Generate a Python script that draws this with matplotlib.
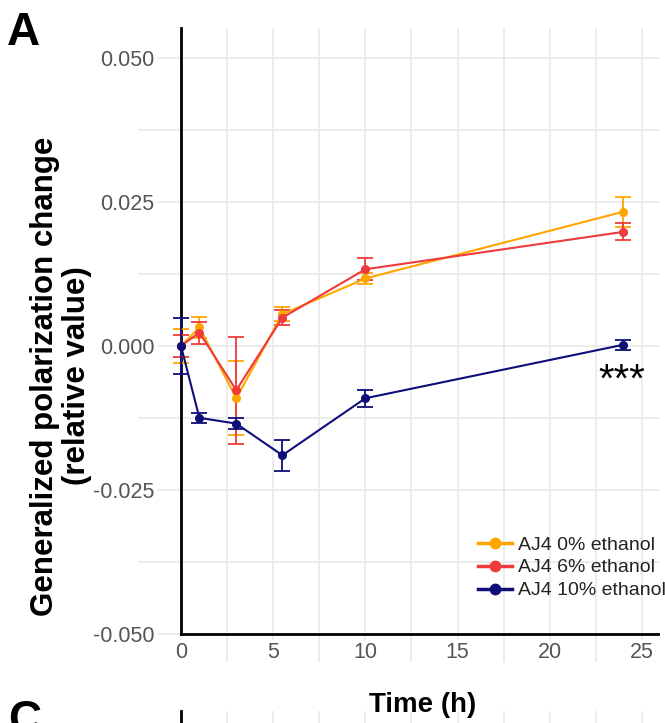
import matplotlib
matplotlib.use("Agg")
import matplotlib.pyplot as plt
from matplotlib.lines import Line2D
from matplotlib.ticker import MultipleLocator

plt.rcParams['font.family'] = ['Liberation Sans', 'DejaVu Sans']

# Sampling times (h)
time_h = [0, 1, 3, 5.5, 10, 24]

# Generalized polarization change, mean and error per condition
gp_0 = [0.0, 0.0032, -0.0091, 0.0055, 0.0117, 0.0233]
err_0 = [0.0029, 0.0018, 0.0064, 0.0012, 0.0010, 0.0026]

gp_6 = [0.0, 0.0023, -0.0077, 0.0049, 0.0133, 0.0198]
err_6 = [0.0019, 0.0019, 0.0093, 0.0013, 0.0019, 0.0015]

gp_10 = [0.0, -0.0125, -0.0135, -0.0190, -0.0091, 0.0002]
err_10 = [0.0048, 0.0009, 0.0010, 0.0027, 0.0015, 0.0009]

series_labels = ["AJ4 0% ethanol", "AJ4 6% ethanol", "AJ4 10% ethanol"]
series_colors = ["#FFA500", "#EE3B3B", "#0E0E78"]

y_ticks = [-0.05, -0.025, 0.0, 0.025, 0.05]
y_ticklabels = ["-0.050", "-0.025", "0.000", "0.025", "0.050"]
x_ticks = [0, 5, 10, 15, 20, 25]

W, H = 665, 723
fig = plt.figure(figsize=(W / 100, H / 100), dpi=100)


def px_rect(left, top, right, bottom):
    return [left / W, 1 - bottom / H, (right - left) / W, (bottom - top) / H]


grid_color = "#EBEBEB"
xlim = (-2.33, 25.98)

ax = fig.add_axes(px_rect(138, 28, 660, 662))
ax.set_xlim(*xlim)
ax.set_ylim(-0.0549, 0.0552)
ax.set_axisbelow(True)

ax.xaxis.set_major_locator(MultipleLocator(5))
ax.xaxis.set_minor_locator(MultipleLocator(2.5))
ax.yaxis.set_minor_locator(MultipleLocator(0.0125))
ax.set_yticks(y_ticks, y_ticklabels)
ax.set_xticks(x_ticks, [str(v) for v in x_ticks])
ax.grid(which="both", color=grid_color, lw=1.3)

for s in ("top", "right"):
    ax.spines[s].set_visible(False)
ax.spines["left"].set_position(("data", 0))
ax.spines["bottom"].set_position(("data", -0.05))
ax.spines["left"].set_bounds(-0.05, 0.0552)
ax.spines["bottom"].set_bounds(0, 25.87)
for s in ("left", "bottom"):
    ax.spines[s].set_linewidth(2)
    ax.spines[s].set_color("black")

ax.tick_params(which="both", length=0)
ax.tick_params(axis="y", pad=19, labelsize=15.5, labelcolor="#555555")
ax.tick_params(axis="x", pad=6, labelsize=15.5, labelcolor="#555555")
for lbl in ax.get_yticklabels() + ax.get_xticklabels():
    lbl.set_bbox(dict(facecolor="white", edgecolor="none", pad=1.5))

for gp, err, col in zip((gp_0, gp_6, gp_10), (err_0, err_6, err_10), series_colors):
    ax.errorbar(time_h, gp, yerr=err, color=col, marker="o", ms=5.5, lw=1.5,
                elinewidth=1.3, capsize=6, capthick=1.3, zorder=3)

ax.text(time_h[-1] - 0.1, -0.0080, "***", ha="center", va="baseline",
        fontsize=29, color="black")

handles = [Line2D([], [], color=c, marker="o", ms=7.5, lw=2.5) for c in series_colors]
fig.legend(handles, series_labels, loc="upper left",
           bbox_to_anchor=(478 / W, 1 - 536 / H), frameon=False,
           fontsize=14, handlelength=1.75, handletextpad=0.3,
           labelspacing=0.27, borderpad=0, borderaxespad=0,
           labelcolor="#222222")

fig.text(61 / W, 1 - 376 / H,
         "Generalized polarization change\n(relative value)",
         rotation=90, ha="center", va="center", multialignment="center",
         fontsize=22.5, fontweight="bold", linespacing=1.05)

fig.text(423 / W, 1 - 712 / H, "Time (h)", ha="center", va="baseline",
         fontsize=20, fontweight="bold")

fig.text(7 / W, 1 - 45 / H, "A", ha="left", va="baseline",
         fontsize=33, fontweight="bold")

# Top edge of the next panel
ax2 = fig.add_axes(px_rect(138, 711, 660, 1345))
ax2.set_xlim(*xlim)
ax2.set_ylim(-0.0549, 0.0552)
ax2.set_axisbelow(True)
ax2.xaxis.set_major_locator(MultipleLocator(5))
ax2.xaxis.set_minor_locator(MultipleLocator(2.5))
ax2.set_yticks([])
ax2.grid(which="both", axis="x", color=grid_color, lw=1.3)
for s in ("top", "right", "bottom"):
    ax2.spines[s].set_visible(False)
ax2.spines["left"].set_position(("data", 0))
ax2.spines["left"].set_linewidth(2)
ax2.tick_params(which="both", length=0, labelbottom=False, labelleft=False)

fig.text(8 / W, 1 - 733 / H, "C", ha="left", va="baseline",
         fontsize=33, fontweight="bold")

fig.savefig("out.png", dpi=100)
